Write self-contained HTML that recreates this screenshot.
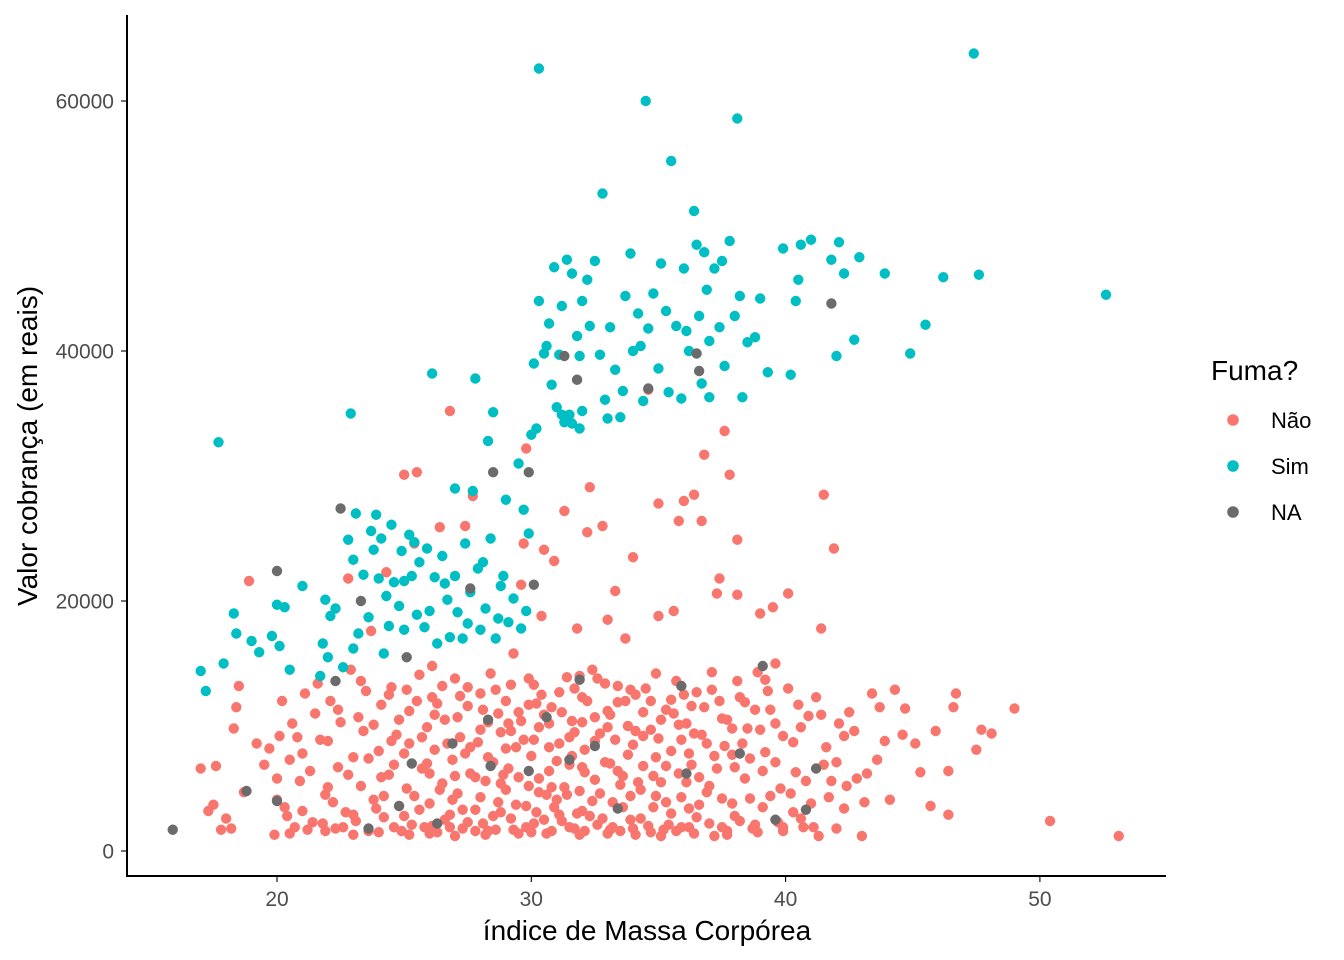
<!DOCTYPE html>
<html><head><meta charset="utf-8"><style>
html,body{margin:0;padding:0;background:#fff;}
svg{display:block;font-family:"Liberation Sans",Arial,sans-serif;}
</style></head><body>
<svg id="chart" width="1344" height="960" viewBox="0 0 1344 960" xmlns="http://www.w3.org/2000/svg">
<g id="points"></g>
<g id="axes"></g>
<text x="647" y="940" text-anchor="middle" font-size="28" fill="#000">índice de Massa Corpórea</text>
<text transform="translate(37,446) rotate(-90)" text-anchor="middle" font-size="28" fill="#000">Valor cobrança (em reais)</text>
<g>
<text x="1211" y="380" font-size="28" fill="#000">Fuma?</text>
<g id="legend-items"></g>
</g>
</svg>
<script>
const xTicks = [20, 30, 40, 50];
const yTicks = [0, 20000, 40000, 60000];
const yTickLabels = ["0", "20000", "40000", "60000"];
const legendLabels = ["Não", "Sim", "NA"];
const seriesColors = ["#F8766D", "#00BFC4", "#6B6B6B"];

const naoPoints = [[17,6.6],[17.3,3.2],[17.5,3.7],[17.6,6.8],[17.8,1.7],[18,2.6],[18.2,1.8],[18.3,9.8],[18.4,11.5],[18.5,13.2],[18.7,4.7],[18.9,21.6],[19.2,8.6],[19.5,6.9],[19.7,8.2],[19.9,1.3],[20,4.1],[20,5.8],[20.1,9.2],[20.2,12],[20.4,2.8],[20.5,7.3],[20.7,1.9],[20.8,9.1],[21,3.2],[21.2,1.7],[21.3,6.4],[21.5,11],[21.6,13.4],[21.8,2.2],[21.9,4.5],[22,8.8],[22.1,12],[22.3,1.8],[22.4,6.7],[22.5,10.3],[22.7,3.1],[22.8,21.8],[22.9,14.5],[23,7.5],[23.1,2.4],[23.3,5.2],[23.4,9.6],[23.5,12.8],[23.6,1.6],[23.7,17.6],[23.8,4.1],[24,8],[24.1,11.7],[24.2,2.7],[24.3,22.3],[24.4,6.1],[24.5,13.1],[24.6,1.9],[24.7,9.3],[24.8,3.6],[25,30.1],[25,7.8],[25.1,5],[25.2,11.2],[25.3,2.1],[25.4,24.6],[25.5,30.3],[25.6,14.1],[25.7,6.6],[25.8,1.9],[25.9,9.9],[26,3.8],[26.1,12.3],[26.2,8.1],[26.3,1.5],[26.4,25.9],[26.5,5.4],[26.6,10.5],[26.8,35.2],[26.8,2.9],[26.9,7.3],[27,13.8],[27.1,4.6],[27.2,9.1],[27.3,1.8],[27.4,26],[27.5,11.6],[27.6,6.2],[27.7,28.4],[27.8,3.3],[27.9,8.7],[28,12.6],[28.1,2.2],[28.2,5.6],[28.3,10.3],[28.4,14.2],[28.5,7.1],[28.6,1.7],[28.7,3.9],[28.8,9.5],[29,12],[29,4.9],[29.1,6.6],[29.2,2.6],[29.3,15.8],[29.4,8.3],[29.5,11.1],[29.6,21.3],[29.7,24.6],[29.8,32.2],[29.8,1.9],[29.9,5.2],[30,7.6],[30.1,13.3],[30.2,3.1],[30.3,9.9],[30.4,18.8],[30.5,24.1],[30.6,1.4],[30.7,6.4],[30.8,11.5],[30.9,23.2],[31,4.1],[31.1,8.6],[31.2,2.4],[31.3,27.2],[31.4,13.9],[31.5,6.9],[31.6,10.4],[31.7,1.8],[31.8,17.8],[31.9,4.8],[32,12.3],[32,3.2],[32.1,8.1],[32.2,25.5],[32.3,29.1],[32.4,14.5],[32.5,5.7],[32.6,2.1],[32.7,9.4],[32.8,26],[33,11.2],[33,18.5],[33.1,7],[33.2,3.9],[33.3,20.8],[33.4,13.2],[33.5,1.6],[33.6,6],[33.7,17],[33.8,10],[33.9,4.4],[34,23.5],[34,8.5],[34.1,12.5],[34.3,2.6],[34.4,6.8],[34.6,36.9],[34.7,9.7],[34.8,3.5],[34.9,14.2],[35,27.8],[35,18.8],[35.1,5.5],[35.3,11.3],[35.4,2.1],[35.5,8],[35.6,19.2],[35.7,13.6],[35.8,26.4],[35.9,4.3],[36,28],[36.1,10.2],[36.2,1.9],[36.3,6.9],[36.4,28.5],[36.5,12.7],[36.6,3.7],[36.7,26.4],[36.8,31.7],[36.9,8.6],[37,5.2],[37.1,14.3],[37.2,1.2],[37.3,20.6],[37.4,21.8],[37.5,10.6],[37.6,33.6],[37.8,30.1],[37.9,7.7],[38,2.8],[38.1,24.9],[38.1,20.5],[38.2,12.3],[38.4,5.8],[38.5,9.8],[38.7,1.8],[38.9,14.3],[39,19],[39.1,3.5],[39.2,7.9],[39.4,11.3],[39.5,19.5],[39.6,15],[39.7,2.3],[39.9,9.2],[40.1,20.6],[40.2,4.6],[40.4,6.3],[40.5,11.7],[40.7,1.9],[41,3.8],[41.2,12.3],[41.3,1.2],[41.4,17.8],[41.5,28.5],[41.6,8.3],[41.8,5.6],[41.9,24.2],[42,1.8],[42.1,10.2],[42.3,3.4],[42.5,11.1],[42.8,5.8],[43,1.2],[43.2,6.2],[43.4,12.6],[43.7,11.5],[43.9,8.8],[44.1,4.1],[44.6,9.3],[44.7,11.4],[45.1,8.6],[45.3,6.3],[45.7,3.6],[45.9,9.6],[46.4,6.4],[46.4,2.9],[46.6,11.5],[46.7,12.6],[47.5,8.1],[47.7,9.7],[48.1,9.4],[49,11.4],[50.4,2.4],[53.1,1.2],
[21,7.8],[21.4,2.3],[22,5.1],[22.6,1.9],[23.2,10.7],[23.9,3.4],[24.1,5.9],[24.5,8.8],[24.9,1.6],[25.1,12.9],[25.4,4.4],[25.7,9.1],[26,6.2],[26.3,11.8],[26.6,2.5],[26.9,4.1],[27.2,12.4],[27.5,2.3],[27.8,5.9],[28,9.7],[28.3,1.6],[28.6,12.9],[28.9,6.1],[29.1,10.2],[29.4,3.7],[29.7,8.9],[29.9,13.8],[30.1,2.2],[30.3,5.8],[30.5,10.9],[30.7,8.3],[30.9,3.5],[31.1,12.7],[31.3,5.1],[31.5,1.9],[31.7,9.5],[31.9,14],[32.1,6.3],[32.3,2.8],[32.5,10.7],[32.7,4.6],[32.9,13.4],[33.1,1.7],[33.3,8.9],[33.5,5.3],[33.7,12],[33.9,2.5],[34.1,9.6],[34.3,4.9],[34.5,13],[34.7,1.5],[34.9,7.5],[35.1,10.5],[35.3,3.9],[35.5,12.1],[35.7,1.6],[35.9,8.9],[36.1,5.5],[36.3,11.6],[36.5,2.7],[36.7,9.3],[36.9,4.7],[37.1,12.9],[37.3,6.6],[37.5,1.9],[37.7,10.5],[37.9,3.8],[38.1,13.6],[38.3,8.6],[38.6,4.2],[38.8,11.3],[39.1,6.4],[39.3,12.8],[39.6,10.2],[39.8,5],[40.3,8.7],[40.6,2.6],[40.9,10.8],[41.5,6.9],[42.3,9.2],[26.1,14.8],[27.4,7.8],[28.8,3.1],[30.2,11.8],[31.6,7.6],[33.0,9.9],[34.4,11.1],[35.8,10.1],[29.2,9.6],[30.6,4.5],[32.0,10.3],[33.4,6.4],[34.8,6.0],[36.2,7.8],[37.6,8.4],
[20.3,3.5],[20.6,10.2],[20.9,5.6],[21.1,12.6],[21.7,8.9],[22.2,3.9],[22.4,11.3],[22.8,6.1],[23.0,2.9],[23.3,13.6],[23.6,7.4],[23.8,10.1],[24.2,4.4],[24.4,12.5],[24.6,6.9],[24.8,10.5],[25.0,2.8],[25.2,8.6],[25.5,12.0],[25.6,3.3],[25.9,7.0],[26.1,2.0],[26.2,10.9],[26.4,4.9],[26.5,13.2],[26.7,8.6],[26.8,1.9],[27.0,6.0],[27.1,10.7],[27.3,3.3],[27.5,13.1],[27.6,8.3],[27.8,1.6],[28.0,4.3],[28.1,11.3],[28.3,7.5],[28.5,2.8],[28.7,11.0],[28.8,5.4],[29.0,8.2],[29.2,13.3],[29.3,1.7],[29.5,5.9],[29.6,10.4],[29.8,3.6],[29.9,11.7],[30.0,1.5],[30.1,8.9],[30.3,4.7],[30.4,12.5],[30.5,2.5],[30.7,10.2],[30.8,5.1],[31.0,7.2],[31.1,2.9],[31.2,11.1],[31.4,4.5],[31.5,9.1],[31.7,13.0],[31.8,3.0],[32.0,6.7],[32.1,1.6],[32.2,12.0],[32.4,4.0],[32.5,8.8],[32.6,13.8],[32.8,2.6],[32.9,7.1],[33.1,10.9],[33.2,1.9],[33.4,11.9],[33.6,3.5],[33.8,7.7],[33.9,12.9],[34.0,1.8],[34.2,5.5],[34.4,9.2],[34.6,2.0],[34.7,12.0],[34.9,4.4],[35.0,9.0],[35.2,1.7],[35.3,6.8],[35.5,3.0],[35.6,11.0],[35.8,6.2],[35.9,1.9],[36.0,12.5],[36.2,3.4],[36.4,9.4],[36.6,5.9],[36.8,11.5],[37.0,2.2],[37.2,7.6],[37.4,12.0],[37.5,4.2],[37.7,1.6],[37.9,9.8],[38.0,6.7],[38.2,2.4],[38.4,11.9],[38.6,7.4],[38.8,2.1],[39.0,9.7],[39.2,13.7],[39.4,4.4],[39.6,7.1],[39.9,1.9],[40.1,13.0],[40.3,3.1],[40.6,9.9],[40.8,5.6],[41.1,1.9],[41.4,10.9],[41.7,4.3],[42.0,7.1],[42.4,5.2],[42.7,9.6],[43.1,3.9],[43.6,7.3],[44.3,12.9],[20.5,1.4],[21.9,1.6],[23.0,1.3],[24.0,1.5],[25.2,1.3],[26.0,1.4],[27.0,1.2],[28.2,1.3],[29.5,1.4],[30.8,1.6],[31.9,1.3],[33.0,1.4],[34.1,1.3],[35.1,1.2],[36.4,1.4],[37.7,1.3],[38.9,1.5],[39.9,1.6]];

const simPoints = [[17,14.4],[17.2,12.8],[17.7,32.7],[17.9,15],[18.3,19],[18.4,17.4],[19,16.8],[19.3,15.9],[19.8,17.2],[20,19.7],[20.1,16.4],[20.3,19.5],[20.5,14.5],[21,21.2],[21.7,14],[21.8,16.6],[21.9,20.1],[22,15.5],[22.3,19.4],[22.6,14.7],[22.8,24.9],[22.9,35],[23,23.3],[23,16.2],[23.1,27],[23.2,17.4],[23.4,22.1],[23.6,18.7],[23.7,25.6],[23.8,24.1],[23.9,26.9],[24,21.8],[24.2,15.8],[24.3,20.4],[24.4,18],[24.5,26.1],[24.6,21.5],[24.8,19.6],[24.9,24],[25,17.7],[25,21.6],[25.2,25.3],[25.3,22],[25.5,18.9],[25.6,23.1],[25.8,17.9],[25.9,24.2],[26,19.2],[26.1,38.2],[26.2,21.9],[26.3,16.6],[26.5,23.6],[26.7,20.1],[26.8,17.1],[27,29],[27,22],[27.1,19.1],[27.3,17],[27.4,24.6],[27.6,20.7],[27.7,28.8],[27.8,37.8],[27.9,22.6],[28,17.7],[28.1,23.1],[28.2,19.4],[28.3,32.8],[28.4,25],[28.5,35.1],[28.6,17],[28.8,21.2],[29,28.1],[29.1,18.3],[29.3,20.2],[29.5,31],[29.7,27.3],[29.8,19.2],[29.9,25.4],[30,33.3],[30.1,39],[30.2,33.8],[30.3,44],[30.3,62.6],[30.5,39.8],[30.7,42.2],[30.8,37.3],[30.9,46.7],[31,35.5],[31.1,39.7],[31.2,43.6],[31.3,34.3],[31.4,47.3],[31.5,34.9],[31.6,46.2],[31.8,41.2],[31.9,33.8],[32,44],[32.2,45.7],[32.3,42],[32.5,47.2],[32.7,39.7],[32.8,52.6],[32.9,36.1],[33,34.6],[33.1,41.9],[33.3,38.5],[33.5,34.7],[33.7,44.4],[33.9,47.8],[34,40],[34.2,43],[34.4,36],[34.5,60],[34.6,41.8],[34.8,44.6],[35,38.6],[35.1,47],[35.3,43.2],[35.5,55.2],[35.7,42],[35.9,36.2],[36,46.6],[36.2,40],[36.4,51.2],[36.5,48.5],[36.7,37.4],[36.8,47.9],[36.9,44.9],[37,40.8],[37.2,46.6],[37.4,41.9],[37.6,38.8],[37.8,48.8],[38,42.8],[38.1,58.6],[38.2,44.4],[38.3,36.3],[38.5,40.7],[38.8,41.1],[39,44.2],[39.3,38.3],[39.9,48.2],[40.2,38.1],[40.4,44],[40.5,45.7],[40.6,48.5],[41,48.9],[41.8,47.3],[42,39.6],[42.1,48.7],[42.3,46.2],[42.7,40.9],[42.9,47.5],[43.9,46.2],[44.9,39.8],[45.5,42.1],[46.2,45.9],[47.4,63.8],[47.6,46.1],[52.6,44.5],
[31.2,34.9],[31.6,34.2],[32.0,35.2],[33.6,36.8],[34.3,40.4],[35.4,36.7],[36.1,41.6],[36.6,42.8],[37.0,36.3],[37.5,47.2],[30.6,40.4],[31.9,39.6],[25.4,24.7],[26.6,21.4],[27.5,18.2],[28.7,18.6],[29.6,17.8],[24.1,25.0],[22.1,18.8],[28.9,22.0]];

const naPoints = [[15.9,1.7],[18.8,4.8],[20,22.4],[20,4],[22.3,13.6],[22.5,27.4],[23.3,20],[23.6,1.8],[24.8,3.6],[25.1,15.5],[25.3,7],[26.3,2.2],[26.9,8.6],[27.6,21],[28.3,10.5],[28.4,6.8],[28.5,30.3],[29.9,30.3],[29.9,6.4],[30.1,21.3],[30.6,10.7],[31.3,39.6],[31.5,7.3],[31.8,37.7],[31.9,13.7],[32.5,8.4],[33.4,3.4],[34.6,37],[35.9,13.2],[36.1,6.2],[36.5,39.8],[36.6,38.4],[38.2,7.8],[39.1,14.8],[39.6,2.5],[40.8,3.3],[41.2,6.6],[41.8,43.8]];

const NS = "http://www.w3.org/2000/svg";
function xScale(v){ return 277 + (v - 20) * 25.43; }
function yScale(v){ return 851 - v * 0.0125; }

const pts = document.getElementById('points');
const seriesList = [naoPoints, simPoints, naPoints];
const seriesNames = ["nao", "sim", "na"];
seriesList.forEach((s, si) => {
  s.forEach(p => {
    const c = document.createElementNS(NS, 'circle');
    c.setAttribute('cx', xScale(p[0]));
    c.setAttribute('cy', yScale(p[1] * 1000));
    c.setAttribute('r', 5.2);
    c.setAttribute('fill', seriesColors[si]);
    
    
    pts.appendChild(c);
  });
});

const ax = document.getElementById('axes');
function line(x1,y1,x2,y2,name){
  const l = document.createElementNS(NS,'line');
  l.setAttribute('x1',x1);l.setAttribute('y1',y1);l.setAttribute('x2',x2);l.setAttribute('y2',y2);
  l.setAttribute('stroke','#000');l.setAttribute('stroke-width',name.indexOf('tick')>=0?1.1:2);
  
  
  ax.appendChild(l);
}
line(127,15,127,877,'y-axis-line');
line(126,876,1166,876,'x-axis-line');
xTicks.forEach(t => {
  const x = xScale(t);
  line(x,876,x,882,'x-tick');
  const tx = document.createElementNS(NS,'text');
  tx.setAttribute('x',x);tx.setAttribute('y',906);tx.setAttribute('text-anchor','middle');
  tx.setAttribute('font-size','21');tx.setAttribute('fill','#4D4D4D');
  tx.textContent = t;
  
  
  ax.appendChild(tx);
});
yTicks.forEach((t,i) => {
  const y = yScale(t);
  line(121,y,127,y,'y-tick');
  const tx = document.createElementNS(NS,'text');
  tx.setAttribute('x',114);tx.setAttribute('y',y+7.5);tx.setAttribute('text-anchor','end');
  tx.setAttribute('font-size','21');tx.setAttribute('fill','#4D4D4D');
  tx.textContent = yTickLabels[i];
  
  
  ax.appendChild(tx);
});

const lg = document.getElementById('legend-items');
legendLabels.forEach((lab,i) => {
  const y = 420 + i * 46;
  const c = document.createElementNS(NS,'circle');
  c.setAttribute('cx',1233);c.setAttribute('cy',y);c.setAttribute('r',5.8);c.setAttribute('fill',seriesColors[i]);
  
  
  lg.appendChild(c);
  const t = document.createElementNS(NS,'text');
  t.setAttribute('x',1271);t.setAttribute('y',y+8);t.setAttribute('font-size','22');t.setAttribute('fill','#000');
  t.textContent = lab;
  
  
  lg.appendChild(t);
});
</script>
</body></html>
